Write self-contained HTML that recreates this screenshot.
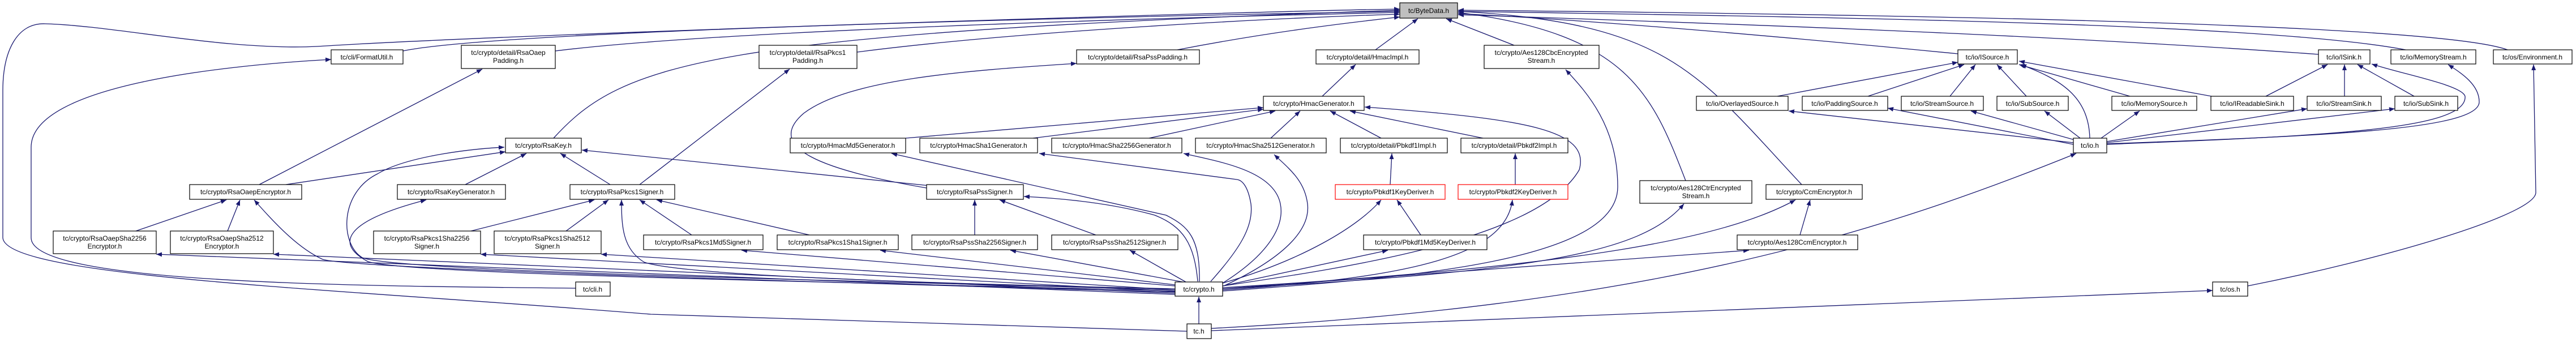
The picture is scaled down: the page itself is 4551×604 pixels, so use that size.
<!DOCTYPE html>
<html><head><meta charset="utf-8"><style>
html,body{margin:0;padding:0;background:#fff;}
svg{display:block;}
text{font-family:"Liberation Sans",sans-serif;font-size:12px;fill:#000;text-anchor:middle;}
.e{fill:none;stroke:#191970;stroke-width:1.3;marker-end:url(#a);}
.n{fill:#fff;stroke:#000;stroke-width:1.2;}
.r{fill:#fff;stroke:#ff0000;stroke-width:1.2;}
</style></head><body>
<svg width="4551" height="604" viewBox="0 0 4551 604" xmlns="http://www.w3.org/2000/svg">
<defs><marker id="a" markerUnits="userSpaceOnUse" markerWidth="11" markerHeight="8" refX="10" refY="4" orient="auto"><path d="M0,0 L10,4 L0,8 z" fill="#191970"/></marker></defs>
<g>
<!-- ByteData -->
<path class="e" d="M712,90 C900,50 2200,25 2473,20"/>
<path class="e" d="M981,90 C1300,50 2200,28 2473,22"/>
<path class="e" d="M1514,92 C1800,55 2250,32 2473,25"/>
<path class="e" d="M2080,88 C2250,55 2400,38 2473,30"/>
<path class="e" d="M2430,88 L2505,33"/>
<path class="e" d="M2675,80 L2555,33"/>
<path class="e" d="M978,244 C1100,110 1250,60 2473,18"/>
<path class="e" d="M2097,585 L1150,555 C600,510 10,490 5,420 L5,160 C5,90 30,40 80,42 C200,45 400,90 560,82 C900,60 2200,20 2473,16"/>
<path class="e" d="M1017,509 C600,505 55,500 55,420 L55,260 C55,150 400,115 585,105"/>
<path class="e" d="M2978,319 C2920,170 2880,60 2576,22"/>
<path class="e" d="M3183,326 C3000,130 2950,40 2576,20"/>
<path class="e" d="M3459,95 C3100,60 2800,35 2576,24"/>
<path class="e" d="M4096,96 C3600,60 3000,40 2576,26"/>
<path class="e" d="M4250,88 C4000,40 3200,30 2576,20"/>
<path class="e" d="M4430,88 C4300,40 3300,25 2576,18"/>
<!-- Hmac -->
<path class="e" d="M2336,170 L2395,114"/>
<path class="e" d="M1600,244 L2232,190"/>
<path class="e" d="M1825,244 L2232,193"/>
<path class="e" d="M2030,244 L2253,196"/>
<path class="e" d="M2245,244 L2297,196"/>
<path class="e" d="M2440,244 L2350,196"/>
<path class="e" d="M2620,244 L2385,196"/>
<path class="e" d="M2160,505 C2400,470 2720,420 2790,300 C2810,230 2700,210 2411,189"/>
<path class="e" d="M2456,326 L2459,271"/>
<path class="e" d="M2677,326 L2677,271"/>
<path class="e" d="M2510,415 L2468,353"/>
<path class="e" d="M2160,500 C2300,460 2400,400 2440,353"/>
<path class="e" d="M2160,512 C2500,490 2660,450 2672,353"/>
<path class="e" d="M2160,505 L2452,442"/>
<path class="e" d="M2160,514 C2500,490 2858,460 2858,330 C2858,220 2800,160 2766,123"/>
<path class="e" d="M2160,510 C2700,480 2900,450 2975,360"/>
<path class="e" d="M2160,508 C2800,470 3050,420 3172,353"/>
<path class="e" d="M2160,510 L3090,442"/>
<path class="e" d="M3180,415 L3198,353"/>
<path class="e" d="M2140,580 C2900,540 3300,420 3668,271"/>
<path class="e" d="M2140,584 L3909,513"/>
<path class="e" d="M3971,505 C4200,460 4480,380 4480,340 L4476,114"/>
<path class="e" d="M2118,572 L2118,524"/>
<!-- io -->
<path class="e" d="M3692,244 C3690,170 3640,140 3570,114"/>
<path class="e" d="M3140,170 L3459,110"/>
<path class="e" d="M3300,170 L3470,114"/>
<path class="e" d="M3445,170 L3490,114"/>
<path class="e" d="M3580,170 L3528,114"/>
<path class="e" d="M3763,170 L3567,114"/>
<path class="e" d="M3907,170 L3567,108"/>
<path class="e" d="M3663,252 L3160,196"/>
<path class="e" d="M3663,255 L3335,191"/>
<path class="e" d="M3665,247 L3482,196"/>
<path class="e" d="M3675,244 L3612,196"/>
<path class="e" d="M3712,244 L3780,196"/>
<path class="e" d="M3722,250 L4076,192"/>
<path class="e" d="M3722,252 L4231,192"/>
<path class="e" d="M3722,255 C4100,240 4360,230 4355,170 C4350,150 4240,130 4190,113"/>
<path class="e" d="M3722,254 C4100,240 4380,230 4380,180 C4380,150 4350,130 4325,114"/>
<path class="e" d="M4003,170 L4112,114"/>
<path class="e" d="M4142,170 L4142,114"/>
<path class="e" d="M4265,170 L4165,114"/>
<!-- Rsa -->
<path class="e" d="M505,326 L893,268"/>
<path class="e" d="M822,326 L930,271"/>
<path class="e" d="M1078,326 L990,271"/>
<path class="e" d="M1643,328 L1028,265"/>
<path class="e" d="M2076,512 C1500,495 700,480 640,455 C600,430 600,340 667,307 C720,275 840,262 891,260"/>
<path class="e" d="M458,326 L852,122"/>
<path class="e" d="M1130,326 L1395,122"/>
<path class="e" d="M1637,332 C1450,300 1350,260 1420,200 C1500,140 1700,125 1902,112"/>
<path class="e" d="M240,408 L400,353"/>
<path class="e" d="M402,408 L424,353"/>
<path class="e" d="M2076,516 C1500,500 620,475 570,458 C530,440 490,400 449,353"/>
<path class="e" d="M2076,520 L276,449"/>
<path class="e" d="M2076,518 L483,449"/>
<path class="e" d="M2076,514 C1500,498 720,485 650,462 C590,430 610,390 753,353"/>
<path class="e" d="M2076,515 L849,449"/>
<path class="e" d="M2076,512 L1062,449"/>
<path class="e" d="M832,408 L1050,353"/>
<path class="e" d="M1000,408 L1075,353"/>
<path class="e" d="M1222,415 L1130,353"/>
<path class="e" d="M1430,415 L1160,353"/>
<path class="e" d="M2076,510 C1600,500 1200,485 1138,463 C1100,440 1098,400 1098,353"/>
<path class="e" d="M2076,505 L1310,442"/>
<path class="e" d="M2076,503 L1555,442"/>
<path class="e" d="M2090,498 L1785,442"/>
<path class="e" d="M2095,498 L1996,442"/>
<path class="e" d="M1722,415 L1722,353"/>
<path class="e" d="M1936,415 L1766,353"/>
<path class="e" d="M2116,497 C2110,430 2090,400 2040,380 C1950,355 1850,349 1809,347"/>
<path class="e" d="M2119,497 C2120,420 2100,400 2060,380 L1575,271"/>
<path class="e" d="M2139,497 C2190,440 2215,400 2210,360 C2205,330 2195,318 2185,317 L1836,271"/>
<path class="e" d="M2160,500 C2240,450 2270,400 2262,360 C2250,300 2150,285 2091,271"/>
<path class="e" d="M2162,505 C2280,450 2315,400 2310,360 C2305,320 2280,300 2251,273"/>
</g>
<g>
<rect x="2473" y="5" width="102" height="27" fill="#bfbfbf" stroke="#000" stroke-width="1.2"/><text x="2524" y="23">tc/ByteData.h</text>
<rect class="n" x="585" y="88" width="127" height="25"/><text x="648" y="105">tc/cli/FormatUtil.h</text>
<rect class="n" x="815" y="80" width="166" height="41"/><text x="898" y="97">tc/crypto/detail/RsaOaep</text><text x="898" y="111">Padding.h</text>
<rect class="n" x="1341" y="80" width="173" height="41"/><text x="1427" y="97">tc/crypto/detail/RsaPkcs1</text><text x="1427" y="111">Padding.h</text>
<rect class="n" x="1902" y="88" width="217" height="25"/><text x="2010" y="105">tc/crypto/detail/RsaPssPadding.h</text>
<rect class="n" x="2325" y="88" width="182" height="25"/><text x="2416" y="105">tc/crypto/detail/HmacImpl.h</text>
<rect class="n" x="2622" y="80" width="203" height="41"/><text x="2723" y="97">tc/crypto/Aes128CbcEncrypted</text><text x="2723" y="111">Stream.h</text>
<rect class="n" x="3459" y="88" width="105" height="25"/><text x="3511" y="105">tc/io/ISource.h</text>
<rect class="n" x="4096" y="88" width="91" height="25"/><text x="4141" y="105">tc/io/ISink.h</text>
<rect class="n" x="4224" y="88" width="150" height="25"/><text x="4299" y="105">tc/io/MemoryStream.h</text>
<rect class="n" x="4405" y="88" width="139" height="25"/><text x="4474" y="105">tc/os/Environment.h</text>
<rect class="n" x="2232" y="170" width="178" height="25"/><text x="2321" y="187">tc/crypto/HmacGenerator.h</text>
<rect class="n" x="2997" y="170" width="162" height="25"/><text x="3078" y="187">tc/io/OverlayedSource.h</text>
<rect class="n" x="3184" y="170" width="151" height="25"/><text x="3259" y="187">tc/io/PaddingSource.h</text>
<rect class="n" x="3359" y="170" width="145" height="25"/><text x="3431" y="187">tc/io/StreamSource.h</text>
<rect class="n" x="3528" y="170" width="126" height="25"/><text x="3591" y="187">tc/io/SubSource.h</text>
<rect class="n" x="3731" y="170" width="150" height="25"/><text x="3806" y="187">tc/io/MemorySource.h</text>
<rect class="n" x="3906" y="170" width="146" height="25"/><text x="3979" y="187">tc/io/IReadableSink.h</text>
<rect class="n" x="4076" y="170" width="131" height="25"/><text x="4141" y="187">tc/io/StreamSink.h</text>
<rect class="n" x="4231" y="170" width="111" height="25"/><text x="4286" y="187">tc/io/SubSink.h</text>
<rect class="n" x="893" y="244" width="134" height="26"/><text x="960" y="261">tc/crypto/RsaKey.h</text>
<rect class="n" x="1396" y="244" width="204" height="26"/><text x="1498" y="261">tc/crypto/HmacMd5Generator.h</text>
<rect class="n" x="1625" y="244" width="208" height="26"/><text x="1729" y="261">tc/crypto/HmacSha1Generator.h</text>
<rect class="n" x="1858" y="244" width="230" height="26"/><text x="1973" y="261">tc/crypto/HmacSha2256Generator.h</text>
<rect class="n" x="2112" y="244" width="231" height="26"/><text x="2227" y="261">tc/crypto/HmacSha2512Generator.h</text>
<rect class="n" x="2368" y="244" width="189" height="26"/><text x="2462" y="261">tc/crypto/detail/Pbkdf1Impl.h</text>
<rect class="n" x="2581" y="244" width="189" height="26"/><text x="2675" y="261">tc/crypto/detail/Pbkdf2Impl.h</text>
<rect class="n" x="3663" y="244" width="59" height="26"/><text x="3692" y="261">tc/io.h</text>
<rect class="n" x="335" y="326" width="198" height="26"/><text x="434" y="343">tc/crypto/RsaOaepEncryptor.h</text>
<rect class="n" x="702" y="326" width="191" height="26"/><text x="797" y="343">tc/crypto/RsaKeyGenerator.h</text>
<rect class="n" x="1007" y="326" width="185" height="26"/><text x="1099" y="343">tc/crypto/RsaPkcs1Signer.h</text>
<rect class="n" x="1637" y="326" width="171" height="26"/><text x="1722" y="343">tc/crypto/RsaPssSigner.h</text>
<rect class="r" x="2359" y="326" width="194" height="26"/><text x="2456" y="343">tc/crypto/Pbkdf1KeyDeriver.h</text>
<rect class="r" x="2576" y="326" width="194" height="26"/><text x="2673" y="343">tc/crypto/Pbkdf2KeyDeriver.h</text>
<rect class="n" x="2897" y="319" width="198" height="40"/><text x="2996" y="336">tc/crypto/Aes128CtrEncrypted</text><text x="2996" y="350">Stream.h</text>
<rect class="n" x="3120" y="326" width="170" height="26"/><text x="3205" y="343">tc/crypto/CcmEncryptor.h</text>
<rect class="n" x="94" y="408" width="182" height="40"/><text x="185" y="425">tc/crypto/RsaOaepSha2256</text><text x="185" y="439">Encryptor.h</text>
<rect class="n" x="301" y="408" width="182" height="40"/><text x="392" y="425">tc/crypto/RsaOaepSha2512</text><text x="392" y="439">Encryptor.h</text>
<rect class="n" x="660" y="408" width="189" height="40"/><text x="754" y="425">tc/crypto/RsaPkcs1Sha2256</text><text x="754" y="439">Signer.h</text>
<rect class="n" x="873" y="408" width="189" height="40"/><text x="967" y="425">tc/crypto/RsaPkcs1Sha2512</text><text x="967" y="439">Signer.h</text>
<rect class="n" x="1137" y="415" width="211" height="26"/><text x="1242" y="432">tc/crypto/RsaPkcs1Md5Signer.h</text>
<rect class="n" x="1373" y="415" width="214" height="26"/><text x="1480" y="432">tc/crypto/RsaPkcs1Sha1Signer.h</text>
<rect class="n" x="1611" y="415" width="222" height="26"/><text x="1722" y="432">tc/crypto/RsaPssSha2256Signer.h</text>
<rect class="n" x="1858" y="415" width="223" height="26"/><text x="1969" y="432">tc/crypto/RsaPssSha2512Signer.h</text>
<rect class="n" x="2409" y="415" width="218" height="26"/><text x="2518" y="432">tc/crypto/Pbkdf1Md5KeyDeriver.h</text>
<rect class="n" x="3069" y="415" width="213" height="26"/><text x="3175" y="432">tc/crypto/Aes128CcmEncryptor.h</text>
<rect class="n" x="1017" y="498" width="61" height="25"/><text x="1047" y="515">tc/cli.h</text>
<rect class="n" x="2076" y="498" width="84" height="25"/><text x="2118" y="515">tc/crypto.h</text>
<rect class="n" x="3909" y="498" width="62" height="25"/><text x="3940" y="515">tc/os.h</text>
<rect class="n" x="2097" y="572" width="43" height="26"/><text x="2118" y="589">tc.h</text>
</g>
</svg>
</body></html>
